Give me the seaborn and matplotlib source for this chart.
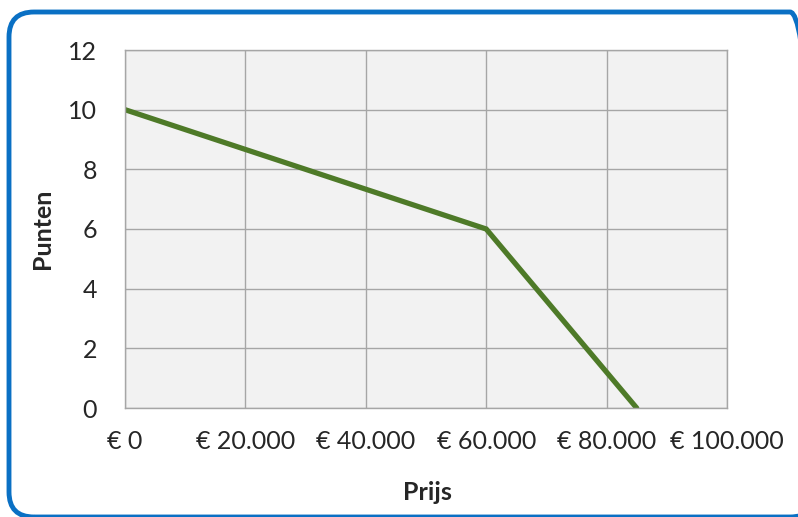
import matplotlib
matplotlib.use("Agg")
import matplotlib.pyplot as plt
import seaborn as sns
import pandas as pd
from matplotlib.patches import FancyBboxPatch
from matplotlib.ticker import FuncFormatter

prijs = [0, 60000, 85000]
punten = [10, 6, 0]
x_ticks = [0, 20000, 40000, 60000, 80000, 100000]
y_ticks = [0, 2, 4, 6, 8, 10, 12]

sns.set_theme(style="white")
plt.rcParams['font.family'] = ['Lato', 'DejaVu Sans']

fig = plt.figure(figsize=(7.98, 5.17), dpi=100)
ax = fig.add_axes([125/798, 1-408/517, (727-125)/798, (408-50)/517])
ax.set_facecolor('#F2F2F2')

df = pd.DataFrame({'Prijs': prijs, 'Punten': punten})
sns.lineplot(data=df, x='Prijs', y='Punten', ax=ax, color='#4E7A28', linewidth=3.8,
             solid_capstyle='round', solid_joinstyle='miter')

ax.set_xlim(0, 100000)
ax.set_ylim(0, 12)
ax.set_xticks(x_ticks)
ax.set_yticks(y_ticks)
ax.xaxis.set_major_formatter(FuncFormatter(lambda v, p: "€ " + f"{int(v):,}".replace(",", ".")))
ax.grid(True, color='#A6A6A6', linewidth=1)
ax.set_axisbelow(True)
for s in ax.spines.values():
    s.set_color('#A6A6A6')
    s.set_linewidth(1)
ax.tick_params(axis='y', length=8, color='#A6A6A6', width=1, pad=12, labelsize=18)
ax.tick_params(axis='x', length=0, pad=16, labelsize=18)
ax.set_xlabel('Prijs', fontsize=18, fontweight='bold', va='center')
ax.set_ylabel('Punten', fontsize=18, fontweight='bold', va='center')
ax.xaxis.set_label_coords((427-125)/602, (408-492)/358)
ax.yaxis.set_label_coords((42-125)/602, 0.5)

# border in inches (1 inch = 100 px); extends past right and bottom edges
border = FancyBboxPatch((0.09, 0.00), 8.06, 5.05, boxstyle="round,pad=0,rounding_size=0.25",
                        transform=fig.dpi_scale_trans, fill=False,
                        edgecolor='#0A70C4', linewidth=3.5)
border.set_in_layout(False)
border.set_clip_box(fig.bbox)
border.set_clip_on(True)
fig.patches.append(border)

fig.savefig('out.png', dpi=100)
